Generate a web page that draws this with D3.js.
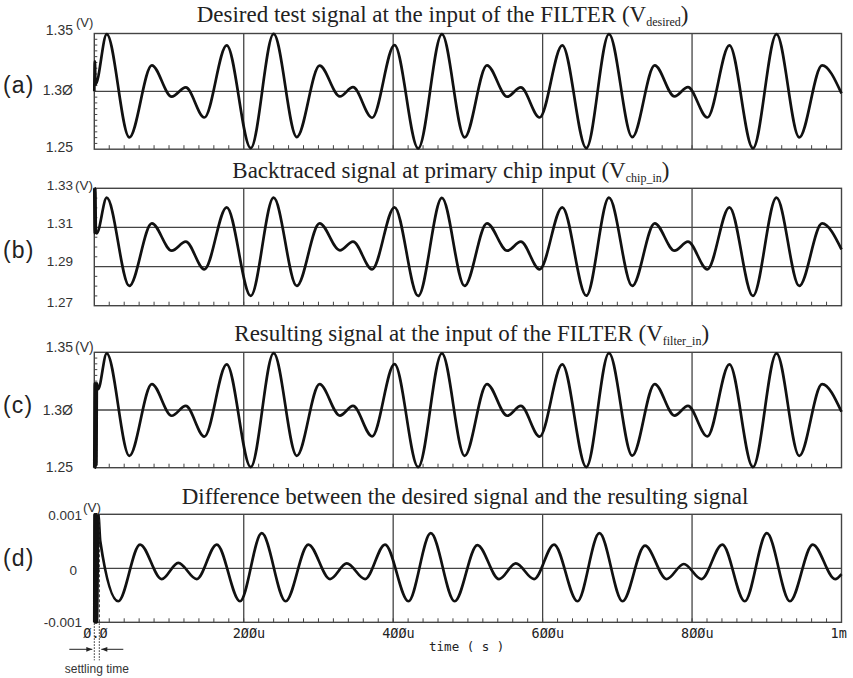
<!DOCTYPE html>
<html>
<head>
<meta charset="utf-8">
<script src="https://cdn.jsdelivr.net/npm/d3@7/dist/d3.min.js"></script>
<style>
  body { margin: 0; background: #fff; }
  svg { display: block; }
</style>
</head>
<body>
<svg id="chart" width="853" height="678"></svg>
<script>
// Values: time in µs, level in V (extrema of each trace)
const timeTicks = [0, 200, 400, 600, 800, 1000];
const timeTickLabels = ['Ø.Ø', '2ØØu', '4ØØu', '6ØØu', '8ØØu', '1m'];

// extrema times shared by traces (a), (b), (c)
const tWave = [
  16.6, 46.9, 77, 103.6, 122.4, 147.3, 177.2, 209.4,
  240, 271, 301.5, 328.7, 346.2, 371.8, 401.8, 433.5,
  465.2, 495.6, 525.5, 552.7, 570.8, 596, 626.3, 658.5,
  688.8, 720, 750, 776.5, 794.5, 820.5, 850, 881.5,
  913, 943.5, 974, 1000
];
const vDesired = [
  1.3495, 1.2602, 1.3225, 1.2954, 1.3034, 1.2774, 1.3398, 1.2509,
  1.3496, 1.2605, 1.3222, 1.2956, 1.3036, 1.2772, 1.3400, 1.2506,
  1.3495, 1.2602, 1.3225, 1.2954, 1.3034, 1.2774, 1.3398, 1.2509,
  1.3495, 1.2604, 1.3225, 1.2956, 1.3036, 1.2774, 1.3398, 1.2508,
  1.3495, 1.2602, 1.3225, 1.2982
];
const vChipIn = [
  1.3252, 1.2801, 1.3121, 1.2981, 1.3027, 1.2886, 1.3203, 1.2750,
  1.3252, 1.2801, 1.3121, 1.2983, 1.3027, 1.2886, 1.3203, 1.2750,
  1.3251, 1.2801, 1.3121, 1.2981, 1.3027, 1.2886, 1.3203, 1.2751,
  1.3252, 1.2801, 1.3121, 1.2981, 1.3027, 1.2886, 1.3203, 1.2750,
  1.3252, 1.2801, 1.3121, 1.2988
];
const vFilterIn = [
  1.3491, 1.2603, 1.3225, 1.2950, 1.3035, 1.2770, 1.3396, 1.2505,
  1.3493, 1.2603, 1.3224, 1.2952, 1.3035, 1.2772, 1.3398, 1.2505,
  1.3491, 1.2603, 1.3225, 1.2950, 1.3035, 1.2770, 1.3396, 1.2505,
  1.3492, 1.2604, 1.3225, 1.2952, 1.3035, 1.2771, 1.3396, 1.2505,
  1.3491, 1.2603, 1.3225, 1.2985
];

// start-up transients at t = 0
const tStartDesired = [0, 0.8, 1.6];
const vStartDesired = [1.300, 1.326, 1.306];
const tStartChipIn = [0, 0.7, 1.4, 2.1, 3.2];
const vStartChipIn = [1.330, 1.307, 1.330, 1.308, 1.307];
const tStartFilterIn = [0, 0.7, 1.4, 2.1, 2.8, 3.5, 5];
const vStartFilterIn = [1.250, 1.323, 1.250, 1.323, 1.252, 1.323, 1.318];

// difference trace (d)
const tDiffStart = [0, 0.35, 0.7, 1.05, 1.4, 1.75, 2.1, 2.45, 2.8, 3.15, 3.5, 5.5, 8];
const vDiffStart = [-0.001, 0.001, -0.001, 0.001, -0.001, 0.001, -0.001, 0.001, -0.001, 0.001, -0.001, 0.00098, 0.0005];
const tDiff = [
  32.1, 61.2, 90.2, 112.4, 137.1, 163.9, 195,
  224.1, 256.1, 286.5, 315.5, 337.9, 362.4, 389.1, 420.4,
  450.3, 482.3, 512.7, 541.7, 564.1, 588.6, 615.3, 646.6,
  676, 707, 737, 766, 789, 812.5, 840.5, 870.5,
  900.1, 931, 961.5, 991.5, 1000
];
const vDiff = [
  -0.00061, 0.00044, -0.0002, 0.0001, -0.0002, 0.00044, -0.00061,
  0.00065, -0.00061, 0.00044, -0.0002, 0.00009, -0.0002, 0.00044, -0.00061,
  0.00065, -0.00061, 0.00043, -0.0002, 0.00009, -0.0002, 0.00044, -0.00061,
  0.00065, -0.00061, 0.00042, -0.0002, 0.00008, -0.0002, 0.00044, -0.00061,
  0.00065, -0.00061, 0.00044, -0.0002, -0.000107
];
const settlingTime = 6.7;

// axis ticks and labels
const yTicksA = [1.35, 1.30, 1.25];
const yLabelsA = ['1.35', '1.3Ø', '1.25'];
const yTicksB = [1.33, 1.31, 1.29, 1.27];
const yLabelsB = ['1.33', '1.31', '1.29', '1.27'];
const yTicksC = [1.35, 1.30, 1.25];
const yLabelsC = ['1.35', '1.3Ø', '1.25'];
const yTicksD = [0.001, 0, -0.001];
const yLabelsD = ['0.001', '0', '-0.001'];

const SERIF = '"Liberation Serif", "Times New Roman", serif';
const SANS = '"Liberation Sans", Arial, sans-serif';
const MONO = '"DejaVu Sans Mono", monospace';
const INK = '#111';
const FRAME = '#444';

const svg = d3.select('#chart');
const x = d3.scaleLinear().domain([0, 1000]).range([94.3, 841.5]);

const panels = [
  {
    letter: '(a)', letterY: 92.5,
    title: ['Desired test signal at the input of the FILTER (V', 'desired', ')'], titleX: 196.7, titleY: 22,
    top: 33.5, bottom: 149.2, domain: [1.25, 1.35], minorStep: 0.005,
    ticks: yTicksA, labels: yLabelsA, labelDy: [1.5, 3.5, 2.5], labelSize: 14, labelX: 73,
    unit: { x: 76, y: 27, size: 13 }, grid: [1.30],
    t: tStartDesired.concat(tWave), v: vStartDesired.concat(vDesired)
  },
  {
    letter: '(b)', letterY: 257.5,
    title: ['Backtraced signal at primary chip input (V', 'chip_in', ')'], titleX: 232.3, titleY: 177.5,
    top: 188.3, bottom: 305.7, domain: [1.27, 1.33], minorStep: 0.005,
    ticks: yTicksB, labels: yLabelsB, labelDy: [1.7, 1, -0.5, 1], labelSize: 13.5, labelX: 73,
    unit: { x: 75, y: 190, size: 13.5 }, grid: [1.31, 1.29],
    t: tStartChipIn.concat(tWave), v: vStartChipIn.concat(vChipIn)
  },
  {
    letter: '(c)', letterY: 412.5,
    title: ['Resulting signal at the input of the FILTER (V', 'filter_in', ')'], titleX: 234.3, titleY: 340.5,
    top: 352.3, bottom: 467.7, domain: [1.25, 1.35], minorStep: 0.005,
    ticks: yTicksC, labels: yLabelsC, labelDy: [-0.6, 4.5, 4], labelSize: 14, labelX: 73,
    unit: { x: 75, y: 351.7, size: 14 }, grid: [1.30],
    t: tStartFilterIn.concat(tWave), v: vStartFilterIn.concat(vFilterIn)
  },
  {
    letter: '(d)', letterY: 565.8,
    title: ['Difference between the desired signal and the resulting signal'], titleX: 181.7, titleY: 503.5,
    top: 514.3, bottom: 622.3, domain: [-0.001, 0.001], minorStep: 0.0002,
    ticks: yTicksD, labels: yLabelsD, labelDy: [5.7, 6.3, 4.4], labelSize: 13.5, labelX: 82,
    unit: { x: 83, y: 512, size: 13.5 }, grid: [0],
    t: tDiffStart.concat(tDiff), v: vDiffStart.concat(vDiff)
  }
];

panels.forEach((p) => {
  const y = d3.scaleLinear().domain(p.domain).range([p.bottom, p.top]);
  const g = svg.append('g');

  // Grid lines: time divisions and level divisions
  g.selectAll('line.vgrid').data(timeTicks.slice(1, -1)).join('line')
    .attr('x1', d => x(d)).attr('x2', d => x(d))
    .attr('y1', p.top).attr('y2', p.bottom)
    .attr('stroke', FRAME).attr('stroke-width', 1.3);
  g.selectAll('line.hgrid').data(p.grid).join('line')
    .attr('x1', x(0)).attr('x2', x(1000))
    .attr('y1', d => y(d)).attr('y2', d => y(d))
    .attr('stroke', FRAME).attr('stroke-width', 1.3);

  // Minor ticks along the bottom and the left edge
  g.selectAll('line.xminor').data(d3.range(20, 1000, 20)).join('line')
    .attr('x1', d => x(d)).attr('x2', d => x(d))
    .attr('y1', p.bottom).attr('y2', p.bottom - 4)
    .attr('stroke', FRAME).attr('stroke-width', 1);
  const nMinor = Math.round((p.domain[1] - p.domain[0]) / p.minorStep);
  g.selectAll('line.yminor').data(d3.range(1, nMinor).map(i => p.domain[0] + i * p.minorStep)).join('line')
    .attr('x1', x(0)).attr('x2', x(0) + 3)
    .attr('y1', d => y(d)).attr('y2', d => y(d))
    .attr('stroke', FRAME).attr('stroke-width', 1);

  // Frame
  g.append('rect')
    .attr('x', x(0)).attr('y', p.top)
    .attr('width', x(1000) - x(0)).attr('height', p.bottom - p.top)
    .attr('fill', 'none').attr('stroke', FRAME).attr('stroke-width', 1.4);

  // Waveform
  const line = d3.line()
    .x(d => x(d[0]))
    .y(d => y(d[1]))
    .curve(d3.curveMonotoneX);
  g.append('path')
    .datum(d3.zip(p.t, p.v))
    .attr('d', line)
    .attr('fill', 'none')
    .attr('stroke', INK)
    .attr('stroke-width', 2.7)
    .attr('stroke-linejoin', 'round');

  // Level labels and unit
  g.selectAll('text.ylab').data(p.ticks).join('text')
    .attr('x', d => (p.letter === '(d)' && d === 0) ? 77 : p.labelX)
    .attr('y', (d, i) => y(d) + p.labelDy[i])
    .attr('text-anchor', 'end')
    .attr('font-family', SANS).attr('font-size', p.labelSize)
    .attr('fill', '#333')
    .text((d, i) => p.labels[i]);
  g.append('text')
    .attr('x', p.unit.x).attr('y', p.unit.y)
    .attr('font-family', SANS).attr('font-size', p.unit.size)
    .attr('fill', '#333')
    .text('(V)');

  // Panel letter
  g.append('text')
    .attr('x', 3).attr('y', p.letterY)
    .attr('font-family', SANS).attr('font-size', 23)
    .attr('letter-spacing', 1.2)
    .attr('fill', '#222')
    .text(p.letter);

  // Title with subscript
  const title = g.append('text')
    .attr('x', p.titleX).attr('y', p.titleY)
    .attr('font-family', SERIF).attr('font-size', 23)
    .attr('fill', '#222');
  title.append('tspan').text(p.title[0]);
  if (p.title.length > 1) {
    title.append('tspan').attr('font-size', 12).attr('dy', 4).text(p.title[1]);
    title.append('tspan').attr('dy', -4).text(p.title[2]);
  }
});

// Time axis labels under panel (d)
const lastBottom = panels[3].bottom;
svg.selectAll('text.xlab').data(timeTicks).join('text')
  .attr('x', d => x(d) - 11)
  .attr('y', lastBottom + 16)
  .attr('font-family', MONO).attr('font-size', 13.5)
  .attr('fill', '#222')
  .text((d, i) => timeTickLabels[i]);
svg.append('text')
  .attr('x', 466.7).attr('y', lastBottom + 29)
  .attr('text-anchor', 'middle')
  .attr('font-family', MONO).attr('font-size', 12.5)
  .attr('fill', '#222')
  .text('time ( s )');

// Settling time marker
const xs0 = x(0), xs1 = x(settlingTime);
svg.append('line')
  .attr('x1', xs1).attr('x2', xs1)
  .attr('y1', panels[3].top).attr('y2', lastBottom)
  .attr('stroke', '#222').attr('stroke-width', 1).attr('stroke-dasharray', '3,2');
svg.selectAll('line.settle').data([xs0, xs1]).join('line')
  .attr('x1', d => d).attr('x2', d => d)
  .attr('y1', lastBottom + 1).attr('y2', lastBottom + 38)
  .attr('stroke', '#222').attr('stroke-width', 1).attr('stroke-dasharray', '1.5,1.5');

const arrowY = lastBottom + 27;
svg.append('defs').append('marker')
  .attr('id', 'head').attr('viewBox', '0 0 10 10')
  .attr('refX', 10).attr('refY', 5)
  .attr('markerWidth', 7).attr('markerHeight', 6)
  .attr('orient', 'auto')
  .append('path').attr('d', 'M0,1 L10,5 L0,9 Z').attr('fill', '#222');
svg.append('line')
  .attr('x1', xs0 - 25).attr('x2', xs0 - 2)
  .attr('y1', arrowY).attr('y2', arrowY)
  .attr('stroke', '#222').attr('stroke-width', 1)
  .attr('marker-end', 'url(#head)');
svg.append('line')
  .attr('x1', xs1 + 24).attr('x2', xs1 + 2)
  .attr('y1', arrowY).attr('y2', arrowY)
  .attr('stroke', '#222').attr('stroke-width', 1)
  .attr('marker-end', 'url(#head)');
svg.append('text')
  .attr('x', (xs0 + xs1) / 2).attr('y', lastBottom + 51)
  .attr('text-anchor', 'middle')
  .attr('font-family', SANS).attr('font-size', 12)
  .attr('fill', '#333')
  .text('settling time');
</script>
</body>
</html>
